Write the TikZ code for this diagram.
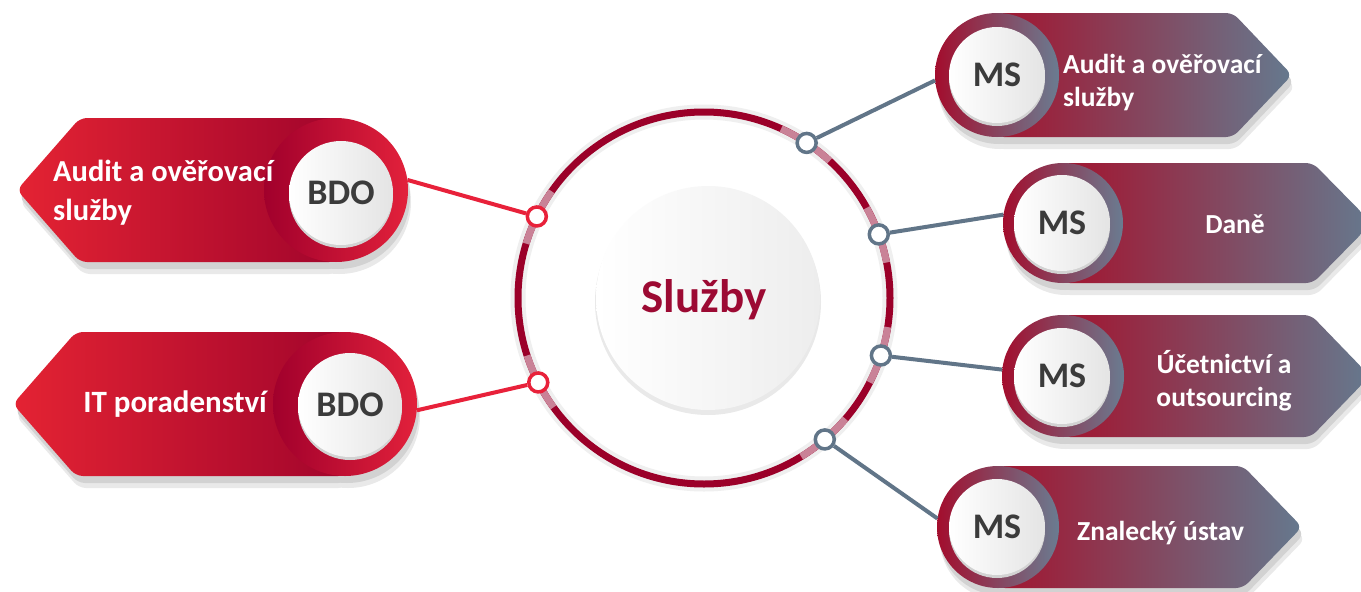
\documentclass[tikz,border=0pt]{standalone}
\usepackage{fontspec}
\setmainfont{Carlito}
\usetikzlibrary{calc}
\definecolor{lbodyL}{HTML}{E42333}
\definecolor{lbodyR}{HTML}{A2052C}
\definecolor{lringL}{HTML}{A1002C}
\definecolor{lringR}{HTML}{E2213B}
\definecolor{rbodyL}{HTML}{A21530}
\definecolor{rbodyR}{HTML}{65798E}
\definecolor{rringL}{HTML}{A30D2D}
\definecolor{rringR}{HTML}{6A7C91}
\definecolor{ringdark}{HTML}{9B0029}
\definecolor{ringlight}{HTML}{C98297}
\definecolor{lineL}{HTML}{E8213A}
\definecolor{lineR}{HTML}{617588}
\definecolor{sluzbyc}{HTML}{9C0A33}
\definecolor{labelc}{HTML}{3B3B3B}
\definecolor{discR}{HTML}{E4E4E4}
\definecolor{innerR}{HTML}{EDEDED}
\definecolor{shadowA}{HTML}{D2D2D2}
\definecolor{shadowB}{HTML}{E9E9E9}
\definecolor{ringglow}{HTML}{EFEFEF}
\begin{document}
\begin{tikzpicture}[x=1pt,y=-1pt,
  lbody/.style={left color=lbodyL, right color=lbodyR, rounded corners=7pt},
  rbody/.style={left color=rbodyL, right color=rbodyR, rounded corners=7pt},
  lring/.style={circle, inner sep=0pt, minimum size=144pt, left color=lringL, right color=lringR},
  rring/.style={circle, inner sep=0pt, minimum size=#1, left color=rringL, right color=rringR},
  disc/.style={circle, inner sep=0pt, minimum size=#1, left color=white, right color=discR,
    text=labelc, font=\bfseries\fontsize{36}{40}\selectfont},
  dotL/.style={circle, inner sep=0pt, minimum size=19pt, line width=3.5pt, draw=lineL, fill=white},
  dotR/.style={circle, inner sep=0pt, minimum size=19pt, line width=3.5pt, draw=lineR, fill=white},
  connL/.style={draw=lineL, line width=4pt},
  connR/.style={draw=lineR, line width=4pt},
  ltxt/.style={inner sep=0pt, text=white, font=\bfseries\fontsize{30.5}{39}\selectfont},
  ltxtb/.style={inner sep=0pt, text=white, font=\bfseries\fontsize{31}{38}\selectfont},
  rtxt/.style={inner sep=0pt, text=white, font=\bfseries\fontsize{27.5}{33}\selectfont}]
\useasboundingbox (0,0) rectangle (1361,592);
\fill[white] (0,0) rectangle (1361,592);
\clip (0,0) rectangle (1361,592);

% central ring
\coordinate (C) at (704,298);
\draw[ringglow, line width=15pt] (C) circle[radius=186];
\draw[ringdark, line width=7pt] (C) circle[radius=186];
\foreach \a in {-154,153,-56.5,-20,18,49.5}
  \draw[ringlight, line width=7pt] plot[domain=\a-9:\a+9, samples=25] ({704+186*cos(\x)},{298+186*sin(\x)});
\fill[shadowB] (708,302) circle[radius=113];
\shade[left color=white, right color=innerR] (708,298) circle[radius=112];
\node[inner sep=0pt, text=sluzbyc, font=\bfseries\fontsize{47}{50}\selectfont] (S) at (704,300) {Služby};

% shadows of the boxes
\foreach \cx/\cy/\R/\t in {336/190/72/17, 345/404/72/13}{
  \fill[shadowB, rounded corners=7pt] (\cx,{\cy-\R+12}) -- ({\t+66},{\cy-\R+12}) -- (\t+3,\cy+12) -- ({\t+66},{\cy+\R+12}) -- (\cx,{\cy+\R+12}) -- cycle;
  \fill[shadowB] (\cx+3,\cy+12) circle[radius=\R];
  \fill[shadowA, rounded corners=7pt] (\cx,{\cy-\R+7}) -- ({\t+65},{\cy-\R+7}) -- (\t+2,\cy+7) -- ({\t+65},{\cy+\R+7}) -- (\cx,{\cy+\R+7}) -- cycle;
  \fill[shadowA] (\cx+2,\cy+7) circle[radius=\R];
}
\foreach \cx/\cy/\R/\t in {997/75/62/1292, 1063/223/60/1372, 1063/376/61/1370, 998/527/61/1302}{
  \fill[shadowB, rounded corners=7pt] (\cx,{\cy-\R+12}) -- ({\t-56},{\cy-\R+12}) -- (\t+3,\cy+12) -- ({\t-56},{\cy+\R+12}) -- (\cx,{\cy+\R+12}) -- cycle;
  \fill[shadowB] (\cx+3,\cy+12) circle[radius=\R];
  \fill[shadowA, rounded corners=7pt] (\cx,{\cy-\R+7}) -- ({\t-57},{\cy-\R+7}) -- (\t+2,\cy+7) -- ({\t-57},{\cy+\R+7}) -- (\cx,{\cy+\R+7}) -- cycle;
  \fill[shadowA] (\cx+2,\cy+7) circle[radius=\R];
}

% box bodies
\foreach \cx/\cy/\R/\t in {336/190/72/17, 345/404/72/13}
  \shade[lbody] (\cx,{\cy-\R}) -- ({\t+63},{\cy-\R}) -- (\t,\cy) -- ({\t+63},{\cy+\R}) -- (\cx,{\cy+\R}) -- cycle;
\foreach \cx/\cy/\R/\t in {997/75/62/1292, 1063/223/60/1372, 1063/376/61/1370, 998/527/61/1302}
  \shade[rbody] (\cx,{\cy-\R}) -- ({\t-59},{\cy-\R}) -- (\t,\cy) -- ({\t-59},{\cy+\R}) -- (\cx,{\cy+\R}) -- cycle;

% rings and discs
\node[lring] (bl1) at (336,190) {};
\node[lring] (bl2) at (345,404) {};
\node[rring=124pt] (mr1) at (997,75) {};
\node[rring=120pt] (mr2) at (1063,223) {};
\node[rring=122pt] (mr3) at (1063,376) {};
\node[rring=122pt] (mr4) at (998,527) {};
\fill[shadowA] (341,196) circle[radius=52];
\fill[shadowA] (350,408) circle[radius=52];
\node[disc=104pt] (bdo1) at (341,193) {BDO};
\node[disc=104pt] (bdo2) at (350,405) {BDO};
\foreach \x/\y in {997/75, 1062/223, 1062/376, 997/527}
  \fill[shadowA] (\x,\y+3) circle[radius=48];
\node[disc=96pt] (ms1) at (997,75) {MS};
\node[disc=96pt] (ms2) at (1062,223) {MS};
\node[disc=96pt] (ms3) at (1062,376) {MS};
\node[disc=96pt] (ms4) at (997,527) {MS};

% dots on the ring
\node[dotL] (d1) at ($(C)+(-154:186)$) {};
\node[dotL] (d2) at ($(C)+(153:186)$) {};
\node[dotR] (d3) at ($(C)+(-56.5:186)$) {};
\node[dotR] (d4) at ($(C)+(-20:186)$) {};
\node[dotR] (d5) at ($(C)+(18:186)$) {};
\node[dotR] (d6) at ($(C)+(49.5:186)$) {};

% connectors
\draw[connL] (d1) -- (bl1.8);
\draw[connL] (d2) -- (bl2.-5);
\draw[connR] (d3) -- (mr1.185);
\draw[connR] (d4) -- (mr2.172);
\draw[connR] (d5) -- (mr3.174);
\draw[connR] (d6) -- (mr4.172);

% texts
\node[ltxt, anchor=west, align=left] (t1) at (53,193) {Audit a ověřovací\\služby};
\node[ltxtb] (t2) at (175,404) {IT poradenství};
\node[rtxt, anchor=west, align=left] (t3) at (1063,83) {Audit a ověřovací\\služby};
\node[rtxt] (t4) at (1235,224) {Daně};
\node[rtxt, align=center] (t5) at (1224,381) {Účetnictví a\\outsourcing};
\node[rtxt, anchor=west] (t6) at (1077,533) {Znalecký ústav};
\end{tikzpicture}
\end{document}
